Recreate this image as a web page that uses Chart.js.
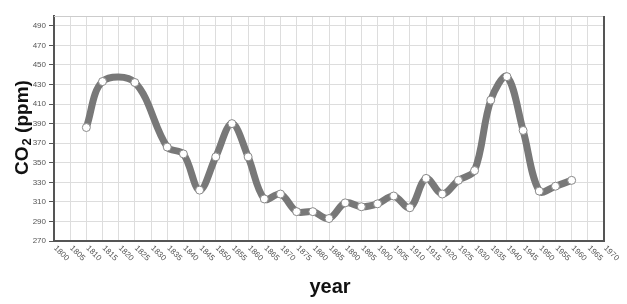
<!DOCTYPE html>
<html><head><meta charset="utf-8">
<script src="https://cdn.jsdelivr.net/npm/chart.js@4/dist/chart.umd.min.js"></script>
<style>html,body{margin:0;padding:0;background:#fff;}canvas{display:block;}</style>
</head><body>
<canvas id="c" width="627" height="304"></canvas>
<script>
const years = [1810,1815,1825,1835,1840,1845,1850,1855,1860,1865,1870,1875,1880,1885,1890,1895,1900,1905,1910,1915,1920,1925,1930,1935,1940,1945,1950,1955,1960];
const co2 = [386,433,432,366,359,322,356,390,356,313,318,300,300,293,309,305,308,316,304,334,318,332,342,414,438,383,321,326,332];
const xTickLabels = [];
for (let y = 1800; y <= 1970; y += 5) xTickLabels.push(String(y));
const yTickLabels = ['270','290','310','330','350','370','390','410','430','450','470','490'];
const xTitle = 'year';
const yTitleMain = 'CO';
const yTitleSub = '2';
const yTitleRest = ' (ppm)';

const points = years.map((y, i) => ({x: y, y: co2[i]}));

const decor = {
  id: 'decor',
  afterDraw(chart) {
    const ctx = chart.ctx;
    const a = chart.chartArea;
    const xs = chart.scales.x;
    ctx.save();
    ctx.strokeStyle = '#cccccc'; ctx.lineWidth = 1;
    ctx.beginPath(); ctx.moveTo(a.left, a.top + 0.5); ctx.lineTo(a.right, a.top + 0.5); ctx.stroke();
    ctx.strokeStyle = '#555555'; ctx.lineWidth = 2;
    ctx.beginPath(); ctx.moveTo(a.right, a.top); ctx.lineTo(a.right, a.bottom); ctx.stroke();
    ctx.fillStyle = '#555555';
    ctx.font = '8px "Liberation Sans", Arial, sans-serif';
    ctx.textAlign = 'left'; ctx.textBaseline = 'middle';
    xTickLabels.forEach(l => {
      const px = xs.getPixelForValue(Number(l));
      ctx.save();
      ctx.translate(px + 1, a.bottom + 6);
      ctx.rotate(Math.PI / 4);
      ctx.fillText(l, 0, 0);
      ctx.restore();
    });
    ctx.fillStyle = '#111111';
    ctx.font = 'bold 20px "Liberation Sans", Arial, sans-serif';
    ctx.textAlign = 'center'; ctx.textBaseline = 'alphabetic';
    ctx.fillText(xTitle, 330, 293);
    ctx.save();
    ctx.translate(28, 128);
    ctx.rotate(-Math.PI / 2);
    const fMain = 'bold 19px "Liberation Sans", Arial, sans-serif';
    const fSub = 'bold 13px "Liberation Sans", Arial, sans-serif';
    ctx.font = fMain; const w1 = ctx.measureText(yTitleMain).width; const w3 = ctx.measureText(yTitleRest).width;
    ctx.font = fSub; const w2 = ctx.measureText(yTitleSub).width;
    let x0 = -(w1 + w2 + w3) / 2;
    ctx.textAlign = 'left';
    ctx.font = fMain; ctx.fillText(yTitleMain, x0, 0);
    ctx.font = fSub; ctx.fillText(yTitleSub, x0 + w1 + 1, 3);
    ctx.font = fMain; ctx.fillText(yTitleRest, x0 + w1 + w2 + 1, 0);
    ctx.restore();
    ctx.restore();
  }
};

new Chart(document.getElementById('c'), {
  type: 'line',
  data: {
    datasets: [{
      data: points,
      borderColor: '#787878',
      borderWidth: 7,
      tension: 0.35,
      pointRadius: 4,
      pointBackgroundColor: '#ffffff',
      pointBorderColor: '#8a8a8a',
      pointBorderWidth: 1,
      fill: false
    }]
  },
  options: {
    responsive: false,
    animation: false,
    devicePixelRatio: 1,
    layout: {padding: {left: 0, right: 23, top: 16, bottom: 63}},
    plugins: {legend: {display: false}, tooltip: {enabled: false}},
    scales: {
      x: {
        type: 'linear', min: 1800, max: 1970,
        afterBuildTicks(s) { s.ticks = xTickLabels.map(v => ({value: Number(v)})); },
        ticks: {display: false},
        grid: {color: '#dddddd', lineWidth: 1, drawTicks: false},
        border: {color: '#555555', width: 2}
      },
      y: {
        type: 'linear', min: 270, max: 500,
        afterBuildTicks(s) { s.ticks = yTickLabels.map(v => ({value: Number(v)})); },
        afterFit(s) { s.width = 54; },
        ticks: {color: '#555555', font: {size: 8, family: '"Liberation Sans", Arial, sans-serif'}, padding: 3},
        grid: {color: '#dddddd', lineWidth: 1, tickLength: 5, tickColor: '#555555'},
        border: {color: '#555555', width: 2}
      }
    }
  },
  plugins: [decor]
});
</script>
</body></html>
